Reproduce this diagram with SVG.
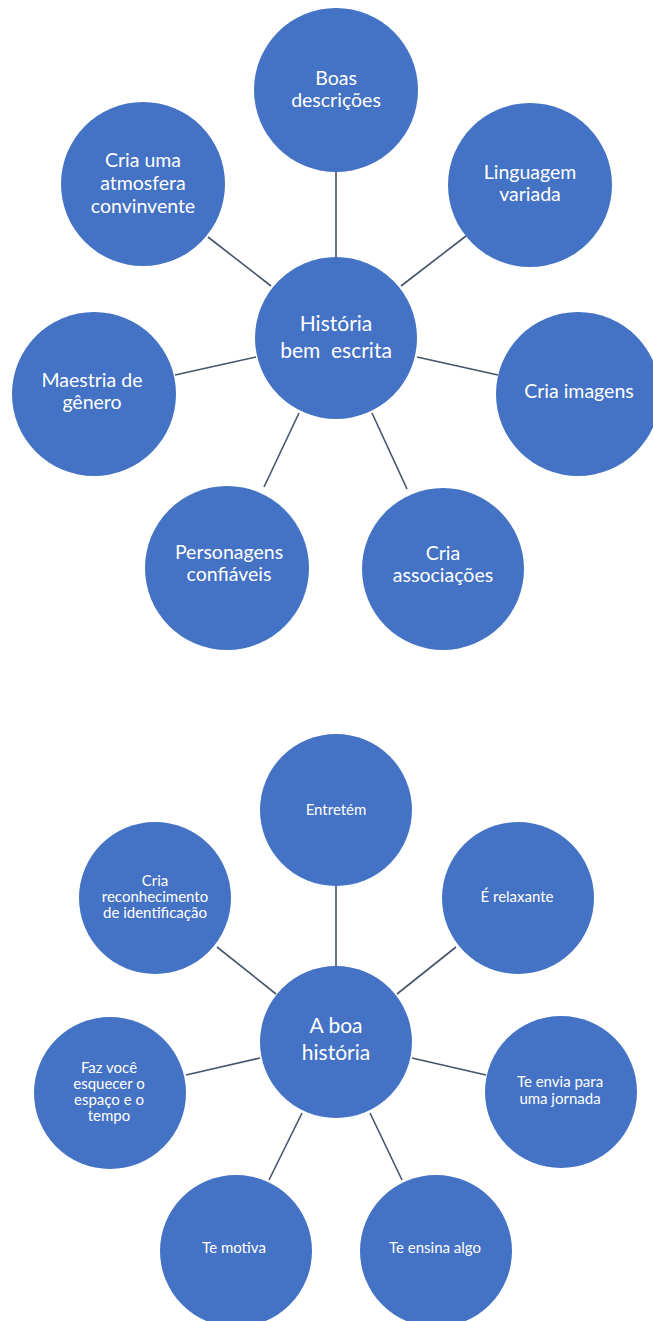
<svg xmlns="http://www.w3.org/2000/svg" width="653" height="1321" viewBox="0 0 653 1321">
  <style>
    .node { fill: #4472C4; }
    .link { stroke: #44546A; stroke-width: 1.6; fill: none; }
    .lbl { fill: #ffffff; font-family: Lato, "Open Sans", "Liberation Sans", sans-serif; text-anchor: middle; }
    .big { font-size: 19.5px; }
    .hub { font-size: 21px; }
    .small { font-size: 15px; }
  </style>
  <rect width="653" height="1321" fill="#ffffff"/>

  <!-- connectors: upper map -->
  <g id="connectors-top">
    <line class="link" x1="336" y1="172" x2="336" y2="262"/>
    <line class="link" x1="208" y1="237" x2="271" y2="286"/>
    <line class="link" x1="466" y1="236" x2="401" y2="286"/>
    <line class="link" x1="175" y1="375" x2="256" y2="357"/>
    <line class="link" x1="417" y1="357" x2="498" y2="375"/>
    <line class="link" x1="299" y1="413" x2="264" y2="487"/>
    <line class="link" x1="372" y1="413" x2="407" y2="489"/>
  </g>

  <!-- connectors: lower map -->
  <g id="connectors-bottom">
    <line class="link" x1="336" y1="886" x2="336" y2="966"/>
    <line class="link" x1="217" y1="947" x2="276" y2="994"/>
    <line class="link" x1="456" y1="947" x2="397" y2="994"/>
    <line class="link" x1="186" y1="1075" x2="260" y2="1058"/>
    <line class="link" x1="412" y1="1058" x2="486" y2="1075"/>
    <line class="link" x1="302" y1="1113" x2="269" y2="1180"/>
    <line class="link" x1="370" y1="1113" x2="402" y2="1180"/>
  </g>

  <!-- upper map: "História bem escrita" -->
  <g id="boas-descricoes">
    <circle class="node" cx="336" cy="90" r="82"/>
    <text class="lbl big" x="336" y="85">Boas</text>
    <text class="lbl big" x="336" y="107">descrições</text>
  </g>
  <g id="cria-atmosfera">
    <circle class="node" cx="143" cy="184" r="82"/>
    <text class="lbl big" x="143" y="167">Cria uma</text>
    <text class="lbl big" x="143" y="190">atmosfera</text>
    <text class="lbl big" x="143" y="213">convinvente</text>
  </g>
  <g id="linguagem-variada">
    <circle class="node" cx="530" cy="185" r="82"/>
    <text class="lbl big" x="530" y="179">Linguagem</text>
    <text class="lbl big" x="530" y="201">variada</text>
  </g>
  <g id="historia-bem-escrita">
    <circle class="node" cx="336" cy="338" r="81"/>
    <text class="lbl hub" x="336" y="331">História</text>
    <text class="lbl hub" x="336" y="358" xml:space="preserve">bem  escrita</text>
  </g>
  <g id="maestria-genero">
    <circle class="node" cx="94" cy="394" r="82"/>
    <text class="lbl big" x="92" y="387">Maestria de</text>
    <text class="lbl big" x="92" y="409">gênero</text>
  </g>
  <g id="cria-imagens">
    <circle class="node" cx="578" cy="394" r="82"/>
    <text class="lbl big" x="579" y="398">Cria imagens</text>
  </g>
  <g id="personagens-confiaveis">
    <circle class="node" cx="227" cy="568" r="82"/>
    <text class="lbl big" x="229" y="559">Personagens</text>
    <text class="lbl big" x="229" y="581">confiáveis</text>
  </g>
  <g id="cria-associacoes">
    <circle class="node" cx="443" cy="569" r="81"/>
    <text class="lbl big" x="443" y="560">Cria</text>
    <text class="lbl big" x="443" y="582">associações</text>
  </g>

  <!-- lower map: "A boa história" -->
  <g id="entretem">
    <circle class="node" cx="336" cy="810" r="76"/>
    <text class="lbl small" x="336" y="815">Entretém</text>
  </g>
  <g id="cria-reconhecimento">
    <circle class="node" cx="155" cy="898" r="76"/>
    <text class="lbl small" x="155" y="886">Cria</text>
    <text class="lbl small" x="155" y="902">reconhecimento</text>
    <text class="lbl small" x="155" y="918">de identificação</text>
  </g>
  <g id="e-relaxante">
    <circle class="node" cx="518" cy="898" r="76"/>
    <text class="lbl small" x="517" y="902">É relaxante</text>
  </g>
  <g id="a-boa-historia">
    <circle class="node" cx="336" cy="1042" r="76"/>
    <text class="lbl hub" x="336" y="1033">A boa</text>
    <text class="lbl hub" x="336" y="1060">história</text>
  </g>
  <g id="faz-voce-esquecer">
    <circle class="node" cx="110" cy="1093" r="76"/>
    <text class="lbl small" x="109" y="1073">Faz você</text>
    <text class="lbl small" x="109" y="1089">esquecer o</text>
    <text class="lbl small" x="109" y="1105">espaço e o</text>
    <text class="lbl small" x="109" y="1121">tempo</text>
  </g>
  <g id="te-envia-jornada">
    <circle class="node" cx="561" cy="1092" r="76"/>
    <text class="lbl small" x="560" y="1087">Te envia para</text>
    <text class="lbl small" x="560" y="1104">uma jornada</text>
  </g>
  <g id="te-motiva">
    <circle class="node" cx="236" cy="1251" r="76"/>
    <text class="lbl small" x="234" y="1253">Te motiva</text>
  </g>
  <g id="te-ensina-algo">
    <circle class="node" cx="436" cy="1251" r="76"/>
    <text class="lbl small" x="435" y="1253">Te ensina algo</text>
  </g>
</svg>
